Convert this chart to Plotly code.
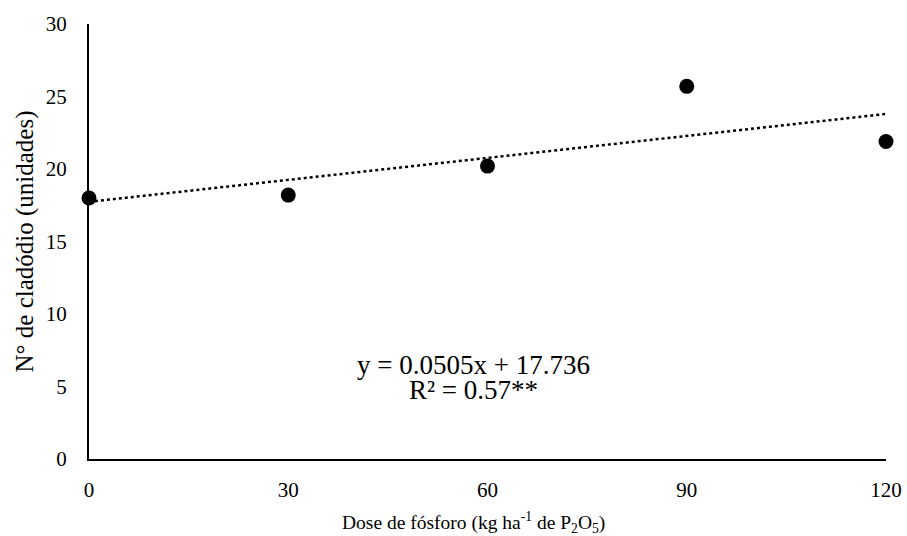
import plotly.graph_objects as go

doses = [0, 30, 60, 90, 120]
cladodios = [18.0, 18.2, 20.2, 25.7, 21.9]
slope = 0.0505
intercept = 17.736
trend_x = [0, 120]
trend_y = [intercept + slope * x for x in trend_x]
y_ticks = [0, 5, 10, 15, 20, 25, 30]
x_ticks = [0, 30, 60, 90, 120]

font = "Liberation Serif, Times New Roman, serif"

fig = go.Figure()
fig.add_trace(go.Scatter(
    x=trend_x, y=trend_y, mode="lines",
    line=dict(color="black", width=2.5, dash="dot"),
    showlegend=False, hoverinfo="skip", cliponaxis=False,
))
fig.add_trace(go.Scatter(
    x=doses, y=cladodios, mode="markers",
    marker=dict(color="black", size=15),
    showlegend=False, cliponaxis=False,
))

fig.add_annotation(
    x=0.482, y=0.216, xref="paper", yref="paper",
    text="y = 0.0505x + 17.736",
    showarrow=False, align="center", xanchor="center", yanchor="middle",
    font=dict(family=font, size=27, color="black"),
)
fig.add_annotation(
    x=0.482, y=0.158, xref="paper", yref="paper",
    text="R² = 0.57**",
    showarrow=False, align="center", xanchor="center", yanchor="middle",
    font=dict(family=font, size=27, color="black"),
)
# x-axis title (placed as annotation to match the reference's offset)
fig.add_annotation(
    x=0.483, y=-0.145, xref="paper", yref="paper",
    text="Dose de fósforo (kg ha<sup>-1</sup> de P<sub>2</sub>O<sub>5</sub>)",
    showarrow=False, xanchor="center", yanchor="middle",
    font=dict(family=font, size=19.5, color="black"),
)

fig.update_layout(
    width=907, height=536,
    margin=dict(l=89, r=21, t=24, b=77),
    plot_bgcolor="white", paper_bgcolor="white",
    font=dict(family=font, color="black"),
    xaxis=dict(
        range=[0, 120], tickvals=x_ticks, showgrid=False, zeroline=False,
        showline=True, linecolor="black", linewidth=2, automargin=False,
        ticks="", ticklabelstandoff=11,
        tickfont=dict(family=font, size=21, color="black"),
    ),
    yaxis=dict(
        range=[0, 30], tickvals=y_ticks, showgrid=False, zeroline=False,
        showline=True, linecolor="black", linewidth=2, automargin=False,
        ticks="", ticklabelstandoff=16,
        tickfont=dict(family=font, size=21, color="black"),
        title=dict(text="N° de cladódio (unidades)",
                   font=dict(family=font, size=25, color="black"), standoff=5),
    ),
)

fig.write_html("out.html", config={"displayModeBar": False},
               post_script="document.body.style.margin='0px';")
